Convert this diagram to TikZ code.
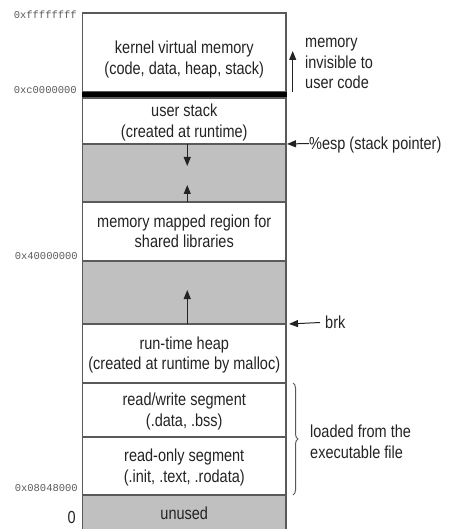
\documentclass[tikz,border=0pt]{standalone}
\usepackage{fontspec}
\usepackage{graphicx}
\setmainfont{Liberation Sans}
\newfontfamily\hexfont{Liberation Mono}
\usetikzlibrary{arrows.meta,decorations.pathreplacing}
\definecolor{segfill}{RGB}{192,192,192}
\definecolor{edge}{RGB}{90,90,90}
\definecolor{ink}{RGB}{35,35,35}
\newcommand\vtx[2][c]{\raisebox{0pt}[\dimexpr\height+4pt\relax][\depth]{\scalebox{1}[1.2]{\begin{tabular}{@{}#1@{}}#2\end{tabular}}}}
\tikzset{
  seg/.style={draw=edge, line width=1.1pt, minimum width=203.5pt, inner sep=0pt, outer sep=0pt,
     align=center, text=ink, font=\fontsize{14.5}{16.7}\selectfont},
  freeseg/.style={seg, fill=segfill},
  hexlbl/.style={anchor=east, text=edge, inner sep=0pt, font=\hexfont\fontsize{10.5}{12}\selectfont},
  side/.style={anchor=west, align=left, text=ink, inner sep=0pt, font=\fontsize{14.5}{16.7}\selectfont},
  arr/.style={draw=ink, line width=1pt, -{Triangle[length=9pt,width=7pt]}},
}
\begin{document}
\begin{tikzpicture}[x=1pt,y=-1pt]
\useasboundingbox (0,0) rectangle (448,529);
% segments
\node[seg, minimum height=79pt] (kernel) at (184.25,52.5) {};
\node[text=ink, align=center, font=\fontsize{14.5}{16.7}\selectfont, inner sep=0pt] (ktext) at (184.25,58) {\vtx{kernel virtual memory\\(code, data, heap, stack)}};
\node[draw=black, fill=black, minimum width=203.5pt, minimum height=5pt, inner sep=0pt, outer sep=0pt] (bar) at (184.25,95) {};
\node[seg, minimum height=46pt] (stack) at (184.25,121) {\vtx{user stack\\(created at runtime)}};
\node[freeseg, minimum height=58pt] (gap1) at (184.25,173) {};
\node[seg, minimum height=59pt] (mmap) at (184.25,231.5) {\vtx{memory mapped region for\\shared libraries}};
\node[freeseg, minimum height=63pt] (gap2) at (184.25,292.5) {};
\node[seg, minimum height=59pt] (heap) at (184.25,353.5) {\vtx{run-time heap\\(created at runtime by malloc)}};
\node[seg, minimum height=54pt] (rw) at (184.25,410) {\vtx{read/write segment\\(.data, .bss)}};
\node[seg, minimum height=58pt] (ro) at (184.25,466) {\vtx{read-only segment\\(.init, .text, .rodata)}};
\node[freeseg, minimum height=36pt] (unused) at (184.25,513) {\vtx{unused}};
% addresses
\node[hexlbl] (a1) at (77,15) {0xffffffff};
\node[hexlbl] (a2) at (77,90) {0xc0000000};
\node[hexlbl] (a3) at (78,256) {0x40000000};
\node[hexlbl] (a4) at (78,488) {0x08048000};
\node[anchor=east, text=ink, inner sep=0pt, font=\fontsize{14.5}{16}\selectfont] (a0) at (76,517.5) {\scalebox{1}[1.2]{0}};
% arrows inside gaps
\coordinate (d1) at ([xshift=3pt,yshift=-22pt]gap1.north);
\coordinate (u1) at ([xshift=3pt,yshift=17pt]gap1.south);
\draw[arr] ([xshift=3pt]gap1.north) -- (d1);
\draw[arr] ([xshift=3pt]mmap.north) -- (u1);
\coordinate (u2) at ([xshift=3pt,yshift=34pt]heap.north);
\draw[arr] ([xshift=3pt]heap.north) -- (u2);
% right side annotations
\coordinate (m0) at (292.7,92);
\coordinate (m1) at (292.7,51);
\draw[arr] (m0) -- (m1);
\node[side] (inv) at (305,62) {\vtx[l]{memory\\invisible to\\user code}};
\node[side] (esp) at (309,143.5) {\vtx[l]{\%esp (stack pointer)}};
\draw[arr] (esp.west) -- ([xshift=1pt]stack.south east);
\node[side] (brk) at (325,322.5) {\vtx[l]{brk}};
\draw[arr] ([xshift=-5pt]brk.west) -- ([xshift=3pt]heap.north east);
\coordinate (b0) at ([xshift=7pt]rw.north east);
\coordinate (b1) at ([xshift=7pt]ro.south east);
\draw[edge, line width=1pt, decorate, decoration={brace, amplitude=5pt}] (b0) -- (b1);
\node[side] (load) at (310,442) {\vtx[l]{loaded from the\\executable file}};
\end{tikzpicture}
\end{document}
